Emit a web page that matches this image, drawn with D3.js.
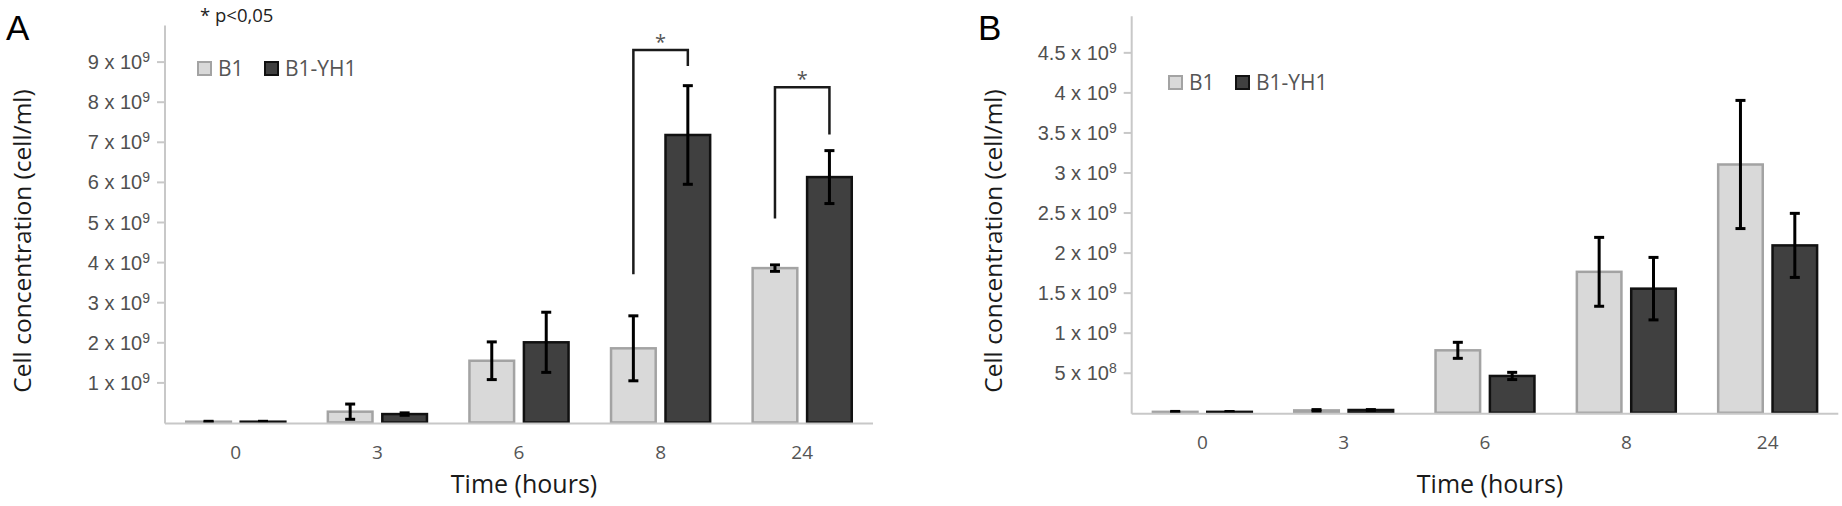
<!DOCTYPE html>
<html>
<head>
<meta charset="utf-8">
<script src="https://cdn.jsdelivr.net/npm/d3@7"></script>
<style>
  body { margin: 0; background: #fff; }
  svg { display: block; font-family: "Open Sans", sans-serif; }
</style>
</head>
<body>
<svg id="chart" width="1842" height="506"></svg>
<script>
// ---- data ----
const times = ["0", "3", "6", "8", "24"];
const seriesNames = ["B1", "B1-YH1"];

// Panel A (cells/ml)
const aB1 = [0.02e9, 0.27e9, 1.54e9, 1.85e9, 3.85e9];
const aB1Err = [0.01e9, 0.19e9, 0.47e9, 0.81e9, 0.08e9];
const aYH1 = [0.02e9, 0.21e9, 2.0e9, 7.17e9, 6.12e9];
const aYH1Err = [0.01e9, 0.03e9, 0.75e9, 1.23e9, 0.66e9];
const aTicks = [1e9, 2e9, 3e9, 4e9, 5e9, 6e9, 7e9, 8e9, 9e9];
const aTickMant = ["1", "2", "3", "4", "5", "6", "7", "8", "9"];
const aTickExp = ["9", "9", "9", "9", "9", "9", "9", "9", "9"];

// significance brackets in panel A: time, left foot, top, right foot
const sigTimes = ["8", "24"];
const sigLeft = [3.7e9, 5.09e9];
const sigTop = [9.29e9, 8.36e9];
const sigRight = [8.89e9, 7.18e9];

// Panel B (cells/ml)
const bB1 = [0.012e9, 0.03e9, 0.78e9, 1.76e9, 3.1e9];
const bB1Err = [0.005e9, 0.01e9, 0.1e9, 0.43e9, 0.8e9];
const bYH1 = [0.012e9, 0.035e9, 0.46e9, 1.55e9, 2.09e9];
const bYH1Err = [0.004e9, 0.005e9, 0.045e9, 0.39e9, 0.4e9];
const bTicks = [0.5e9, 1e9, 1.5e9, 2e9, 2.5e9, 3e9, 3.5e9, 4e9, 4.5e9];
const bTickMant = ["5", "1", "1.5", "2", "2.5", "3", "3.5", "4", "4.5"];
const bTickExp = ["8", "9", "9", "9", "9", "9", "9", "9", "9"];

const fills = ["#d9d9d9", "#404040"];
const strokes = ["#a3a3a3", "#111"];

const svg = d3.select("#chart");

function drawPanel(opt) {
  const g = svg.append("g");

  const x0 = d3.scaleBand()
    .domain(times)
    .range([opt.left, opt.right])
    .paddingInner(0.3)
    .paddingOuter(0.15);

  const x1 = d3.scaleBand()
    .domain(seriesNames)
    .range([0, x0.bandwidth()])
    .paddingInner(0.18);

  const y = d3.scaleLinear()
    .domain([0, opt.yMax])
    .range([opt.bottom, opt.top]);

  const rows = times.map((t, i) => ({
    time: t,
    vals: [
      { s: seriesNames[0], v: opt.s1[i], e: opt.e1[i], k: 0 },
      { s: seriesNames[1], v: opt.s2[i], e: opt.e2[i], k: 1 }
    ]
  }));

  // y axis
  const yAxis = g.append("g")
    .attr("transform", `translate(${opt.left},0)`)
    .call(d3.axisLeft(y)
      .tickValues(opt.ticks)
      .tickSize(8)
      .tickPadding(7)
      .tickFormat(""));
  yAxis.select(".domain").remove();
  yAxis.selectAll(".tick line").attr("stroke", "#c8c8c8").attr("stroke-width", 2);
  yAxis.selectAll(".tick text").each(function (d, i) {
    const t = d3.select(this)
      .attr("fill", "#505050")
      .style("font-size", "20px")
      .attr("dy", "0.35em");
    t.append("tspan").text(opt.mant[i] + " x 10");
    t.append("tspan").text(opt.exp[i])
      .attr("dy", "-0.5em")
      .style("font-size", "14px");
  });

  // axis lines
  g.append("line")
    .attr("x1", opt.left).attr("x2", opt.left)
    .attr("y1", y(opt.yMax) + 4).attr("y2", opt.bottom + 1)
    .attr("stroke", "#c8c8c8").attr("stroke-width", 2);

  // bars
  const grp = g.selectAll(".grp")
    .data(rows)
    .enter().append("g")
    .attr("transform", d => `translate(${x0(d.time)},0)`);

  grp.selectAll("rect")
    .data(d => d.vals)
    .enter().append("rect")
    .attr("x", d => x1(d.s))
    .attr("width", x1.bandwidth())
    .attr("y", d => y(d.v))
    .attr("height", d => opt.bottom - y(d.v))
    .attr("fill", d => fills[d.k])
    .attr("stroke", d => strokes[d.k])
    .attr("stroke-width", 2.5);

  // error bars
  const eb = grp.selectAll(".err")
    .data(d => d.vals)
    .enter().append("g")
    .attr("transform", d => `translate(${x1(d.s) + x1.bandwidth() / 2},0)`)
    .attr("stroke", "#000")
    .attr("stroke-width", 3);
  eb.append("line")
    .attr("y1", d => y(d.v + d.e)).attr("y2", d => y(Math.max(0, d.v - d.e)));
  eb.append("line")
    .attr("x1", -5).attr("x2", 5)
    .attr("y1", d => y(d.v + d.e)).attr("y2", d => y(d.v + d.e));
  eb.append("line")
    .attr("x1", -5).attr("x2", 5)
    .attr("y1", d => y(Math.max(0, d.v - d.e))).attr("y2", d => y(Math.max(0, d.v - d.e)));

  g.append("line")
    .attr("x1", opt.left).attr("x2", opt.right)
    .attr("y1", opt.bottom + 1).attr("y2", opt.bottom + 1)
    .attr("stroke", "#c8c8c8").attr("stroke-width", 2);

  // x axis labels
  g.selectAll(".xl")
    .data(times)
    .enter().append("text")
    .attr("x", d => x0(d) + x0.bandwidth() / 2)
    .attr("y", opt.bottom + 36)
    .attr("text-anchor", "middle")
    .attr("fill", "#555")
    .style("font-size", "19px")
    .text(d => d);

  // axis titles
  g.append("text")
    .attr("x", (opt.left + opt.right) / 2 + 5)
    .attr("y", 493)
    .attr("text-anchor", "middle")
    .attr("fill", "#1a1a1a")
    .style("font-size", "25px")
    .text("Time (hours)");

  g.append("text")
    .attr("transform", `translate(${opt.yTitleX},241) rotate(-90)`)
    .attr("text-anchor", "middle")
    .attr("dy", "0.35em")
    .attr("fill", "#1a1a1a")
    .style("font-size", "24.5px")
    .text("Cell concentration (cell/ml)");

  // panel letter
  g.append("text")
    .attr("x", opt.letterX)
    .attr("y", 40)
    .attr("fill", "#000")
    .style("font-family", "'Liberation Sans', Arial, sans-serif")
    .style("font-size", "35px")
    .text(opt.letter);

  // legend
  const leg = g.append("g")
    .attr("transform", `translate(${opt.legX},${opt.legY})`);
  const legX = [0, 67];
  seriesNames.forEach((s, k) => {
    leg.append("rect")
      .attr("x", legX[k]).attr("y", -7)
      .attr("width", 13).attr("height", 13)
      .attr("fill", fills[k]).attr("stroke", strokes[k]).attr("stroke-width", 2);
    leg.append("text")
      .attr("x", legX[k] + 20).attr("y", 0)
      .attr("dy", "0.35em")
      .attr("fill", "#555")
      .style("font-size", "21px")
      .text(s);
  });

  return { g, x0, x1, y };
}

const A = drawPanel({
  left: 165, right: 873, top: 21.5, bottom: 422.5, yMax: 10e9,
  s1: aB1, e1: aB1Err, s2: aYH1, e2: aYH1Err,
  ticks: aTicks, mant: aTickMant, exp: aTickExp,
  yTitleX: 22, letter: "A", letterX: 6, legX: 198, legY: 69
});

const B = drawPanel({
  left: 1131.7, right: 1838.3, top: 12.3, bottom: 412.8, yMax: 5e9,
  s1: bB1, e1: bB1Err, s2: bYH1, e2: bYH1Err,
  ticks: bTicks, mant: bTickMant, exp: bTickExp,
  yTitleX: 993, letter: "B", letterX: 978, legX: 1169, legY: 83
});

// p-value note
A.g.append("text")
  .attr("x", 200).attr("y", 22)
  .attr("fill", "#222")
  .style("font-size", "18.5px")
  .text("* p<0,05");

// significance brackets
sigTimes.forEach((t, i) => {
  const xl = A.x0(t) + A.x1(seriesNames[0]) + A.x1.bandwidth() / 2;
  const xr = A.x0(t) + A.x1(seriesNames[1]) + A.x1.bandwidth() / 2;
  A.g.append("path")
    .attr("d", `M${xl},${A.y(sigLeft[i])}V${A.y(sigTop[i])}H${xr}V${A.y(sigRight[i])}`)
    .attr("fill", "none")
    .attr("stroke", "#1a1a1a")
    .attr("stroke-width", 2.5);
  A.g.append("text")
    .attr("x", (xl + xr) / 2)
    .attr("y", A.y(sigTop[i]) - 1)
    .attr("text-anchor", "middle")
    .attr("fill", "#555")
    .style("font-size", "20px")
    .text("*");
});
</script>
</body>
</html>
